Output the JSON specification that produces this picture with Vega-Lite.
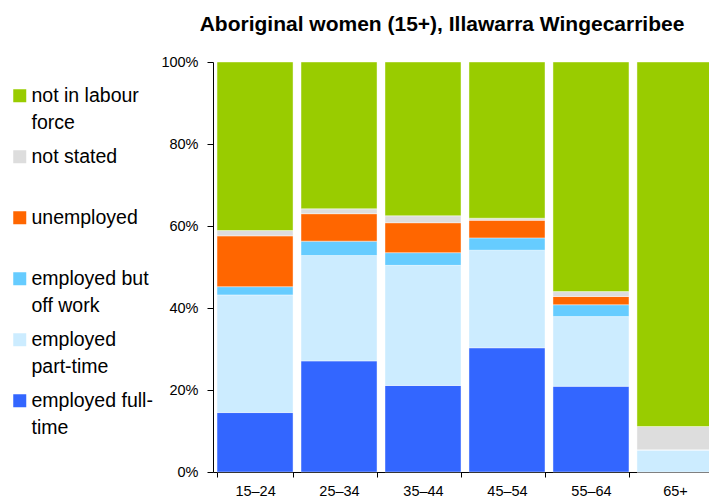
{
  "$schema": "https://vega.github.io/schema/vega-lite/v6.json",
  "width": 496,
  "height": 410,
  "autosize": {"type": "none"},
  "padding": {"left": 213, "top": 62, "right": 0, "bottom": 32},
  "background": "white",
  "config": {"view": {"stroke": null}, "style": {"guide-label": {"lineHeight": 27}}},
  "title": {
    "text": "Aboriginal women (15+), Illawarra Wingecarribee",
    "font": "Liberation Sans",
    "fontSize": 21,
    "fontWeight": "bold",
    "color": "black",
    "anchor": "middle",
    "offset": 19,
    "dx": -19
  },
  "data": {
    "values": [
      {"age": "15–24", "status": "employed full-time", "pct": 14.5},
      {"age": "15–24", "status": "employed part-time", "pct": 28.7},
      {"age": "15–24", "status": "employed but off work", "pct": 2.0},
      {"age": "15–24", "status": "unemployed", "pct": 12.4},
      {"age": "15–24", "status": "not stated", "pct": 1.3},
      {"age": "15–24", "status": "not in labour force", "pct": 41.1},
      {"age": "25–34", "status": "employed full-time", "pct": 27.1},
      {"age": "25–34", "status": "employed part-time", "pct": 25.7},
      {"age": "25–34", "status": "employed but off work", "pct": 3.5},
      {"age": "25–34", "status": "unemployed", "pct": 6.7},
      {"age": "25–34", "status": "not stated", "pct": 1.2},
      {"age": "25–34", "status": "not in labour force", "pct": 35.8},
      {"age": "35–44", "status": "employed full-time", "pct": 21.1},
      {"age": "35–44", "status": "employed part-time", "pct": 29.3},
      {"age": "35–44", "status": "employed but off work", "pct": 3.1},
      {"age": "35–44", "status": "unemployed", "pct": 7.3},
      {"age": "35–44", "status": "not stated", "pct": 1.7},
      {"age": "35–44", "status": "not in labour force", "pct": 37.5},
      {"age": "45–54", "status": "employed full-time", "pct": 30.3},
      {"age": "45–54", "status": "employed part-time", "pct": 23.8},
      {"age": "45–54", "status": "employed but off work", "pct": 3.0},
      {"age": "45–54", "status": "unemployed", "pct": 4.3},
      {"age": "45–54", "status": "not stated", "pct": 0.5},
      {"age": "45–54", "status": "not in labour force", "pct": 38.1},
      {"age": "55–64", "status": "employed full-time", "pct": 20.9},
      {"age": "55–64", "status": "employed part-time", "pct": 17.0},
      {"age": "55–64", "status": "employed but off work", "pct": 2.9},
      {"age": "55–64", "status": "unemployed", "pct": 2.0},
      {"age": "55–64", "status": "not stated", "pct": 1.2},
      {"age": "55–64", "status": "not in labour force", "pct": 56.0},
      {"age": "65+", "status": "employed full-time", "pct": 0},
      {"age": "65+", "status": "employed part-time", "pct": 5.4},
      {"age": "65+", "status": "employed but off work", "pct": 0},
      {"age": "65+", "status": "unemployed", "pct": 0},
      {"age": "65+", "status": "not stated", "pct": 5.7},
      {"age": "65+", "status": "not in labour force", "pct": 88.9}
    ]
  },
  "transform": [
    {"calculate": "indexof(['employed full-time','employed part-time','employed but off work','unemployed','not stated','not in labour force'], datum.status)", "as": "k"}
  ],
  "mark": {"type": "bar", "stroke": "white", "strokeWidth": 0.6, "strokeOpacity": 0.7},
  "encoding": {
    "x": {
      "field": "age",
      "type": "nominal",
      "sort": null,
      "scale": {"range": [0, 504], "paddingInner": 0.095, "paddingOuter": 0.048},
      "axis": {
        "title": null,
        "labelAngle": 0,
        "tickBand": "extent",
        "tickSize": 5,
        "tickColor": "black",
        "domainColor": "black",
        "labelPadding": 7,
        "labelFont": "Liberation Sans",
        "labelFontSize": 14.5,
        "labelColor": "black"
      }
    },
    "y": {
      "field": "pct",
      "type": "quantitative",
      "stack": "zero",
      "scale": {"domain": [0, 100], "nice": false},
      "axis": {
        "title": null,
        "values": [0, 20, 40, 60, 80, 100],
        "labelExpr": "datum.value + '%'",
        "grid": false,
        "tickSize": 6,
        "tickColor": "black",
        "domainColor": "black",
        "labelPadding": 9,
        "labelFont": "Liberation Sans",
        "labelFontSize": 14.5,
        "labelColor": "black"
      }
    },
    "order": {"field": "k", "type": "quantitative"},
    "color": {
      "field": "status",
      "type": "nominal",
      "scale": {
        "domain": ["not in labour force", "not stated", "unemployed", "employed but off work", "employed part-time", "employed full-time"],
        "range": ["#99CC00", "#DDDDDD", "#FF6600", "#66CCFF", "#CCECFF", "#3366FF"]
      },
      "legend": {
        "title": null,
        "orient": "none",
        "legendX": -203,
        "legendY": 24,
        "symbolType": "square",
        "symbolSize": 169,
        "symbolStrokeWidth": 0,
        "symbolOpacity": 1,
        "labelFont": "Liberation Sans",
        "labelFontSize": 19.5,
        "labelColor": "black",
        "labelBaseline": "middle",
        "labelOffset": 2,
        "labelLimit": 200,
        "gridAlign": "all",
        "rowPadding": 13,
        "labelExpr": "datum.label == 'not in labour force' ? ['not in labour', 'force'] : datum.label == 'employed but off work' ? ['employed but', 'off work'] : datum.label == 'employed part-time' ? ['employed', 'part-time'] : datum.label == 'employed full-time' ? ['employed full-', 'time'] : datum.label"
      }
    }
  }
}
